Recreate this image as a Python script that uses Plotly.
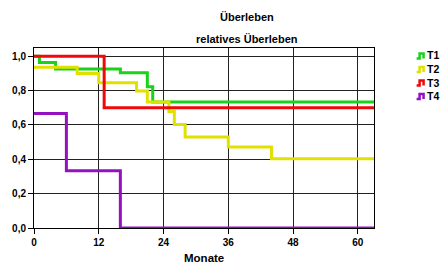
import plotly.graph_objects as go

# ---- data ----
series_names = ["T1", "T2", "T3", "T4"]
series_colors = ["#19d219", "#e1e100", "#ee0a0a", "#9410c0"]
t1_months = [0, 1, 4, 16, 21, 22, 63]
t1_surv = [1.0, 0.963, 0.926, 0.904, 0.822, 0.733, 0.733]
t2_months = [0, 8, 12, 19, 21, 25, 26, 28, 36, 44, 63]
t2_surv = [0.936, 0.90, 0.846, 0.797, 0.733, 0.678, 0.602, 0.53, 0.471, 0.403, 0.403]
t3_months = [0, 13, 63]
t3_surv = [1.0, 0.70, 0.70]
t4_months = [0, 6, 16, 63]
t4_surv = [0.667, 0.333, 0.0, 0.0]
x_ticks = [0, 12, 24, 36, 48, 60]
y_ticks = [0.0, 0.2, 0.4, 0.6, 0.8, 1.0]
y_ticklabels = ["0,0", "0,2", "0,4", "0,6", "0,8", "1,0"]

months = [t1_months, t2_months, t3_months, t4_months]
survs = [t1_surv, t2_surv, t3_surv, t4_surv]

W, H = 443, 266
L, R, T, B = 31, 374, 48, 228  # plot area in pixels


def px(x):
    return (x - L) / (R - L)


def py(y):
    return (B - y) / (B - T)


fig = go.Figure()
for name, col, xs, ys in zip(series_names, series_colors, months, survs):
    fig.add_trace(go.Scatter(x=xs, y=ys, mode="lines", line_shape="hv",
                             line=dict(color=col, width=3), name=name,
                             showlegend=False, hoverinfo="skip"))

font_b = "Liberation Sans"
fig.update_layout(
    width=W, height=H,
    margin=dict(l=L, r=W - R, t=T, b=H - B, pad=0),
    paper_bgcolor="white", plot_bgcolor="white",
    xaxis=dict(range=[0, 63], tickvals=x_ticks, ticktext=[str(v) for v in x_ticks],
               showgrid=True, gridcolor="#222222", gridwidth=1,
               showline=True, linecolor="black", linewidth=1, mirror=True,
               ticks="outside", ticklen=5, tickcolor="black", zeroline=False,
               tickfont=dict(family=font_b, size=10, color="black", weight="bold")),
    yaxis=dict(range=[0, 1.048], tickvals=y_ticks, ticktext=y_ticklabels,
               showgrid=True, gridcolor="#222222", gridwidth=1,
               showline=True, linecolor="black", linewidth=1, mirror=True,
               ticks="outside", ticklen=5, tickcolor="black", zeroline=False,
               tickfont=dict(family=font_b, size=10, color="black", weight="bold")),
)

ann = []
ann.append(dict(text="Überleben", x=px(246), y=py(17), xref="paper", yref="paper",
                showarrow=False, xanchor="center", yanchor="middle",
                font=dict(family=font_b, size=11, color="black", weight="bold")))
ann.append(dict(text="relatives Überleben", x=px(246), y=py(39), xref="paper", yref="paper",
                showarrow=False, xanchor="center", yanchor="middle",
                font=dict(family=font_b, size=11, color="black", weight="bold")))
ann.append(dict(text="Monate", x=px(202), y=py(258), xref="paper", yref="paper",
                showarrow=False, xanchor="center", yanchor="middle",
                font=dict(family=font_b, size=11.5, color="black", weight="bold")))

shapes = []
leg_y = [55.5, 69, 82.5, 96]
for name, col, ly in zip(series_names, series_colors, leg_y):
    path = (f"M {px(417)},{py(ly+3)} L {px(420)},{py(ly+3)} L {px(420)},{py(ly-2)} "
            f"L {px(424)},{py(ly-2)} L {px(424)},{py(ly+3)}")
    shapes.append(dict(type="path", path=path, xref="paper", yref="paper",
                       line=dict(color=col, width=2.5)))
    ann.append(dict(text=name, x=px(425), y=py(ly), xref="paper", yref="paper",
                    showarrow=False, xanchor="left", yanchor="middle",
                    font=dict(family=font_b, size=10.5, color="black", weight="bold")))

fig.update_layout(annotations=ann, shapes=shapes)
fig.write_html("out.html",
               config={"displayModeBar": False, "staticPlot": True},
               post_script="document.body.style.margin='0';document.body.style.padding='0';"
                           "document.documentElement.style.overflow='hidden';")
